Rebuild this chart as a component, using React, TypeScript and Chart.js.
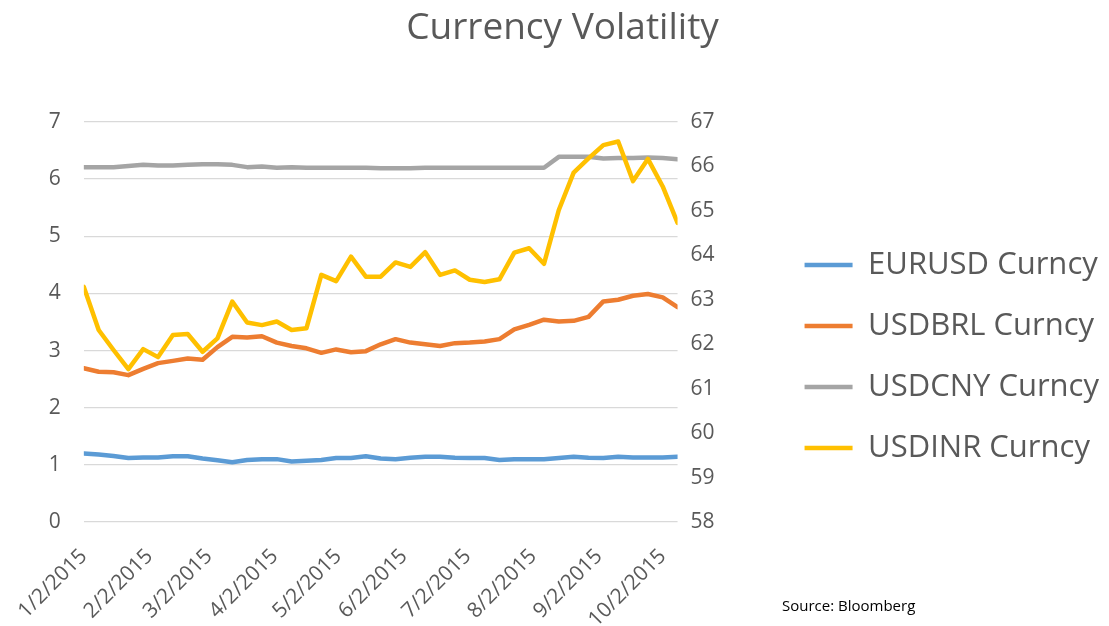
import React, { useEffect, useRef } from 'react';
import { Chart, registerables } from 'chart.js';

Chart.register(...registerables);

// Weekly observation dates (categories)
const weekDates = [
  '1/2/2015', '1/9/2015', '1/16/2015', '1/23/2015', '1/30/2015',
  '2/6/2015', '2/13/2015', '2/20/2015', '2/27/2015',
  '3/6/2015', '3/13/2015', '3/20/2015', '3/27/2015',
  '4/3/2015', '4/10/2015', '4/17/2015', '4/24/2015',
  '5/1/2015', '5/8/2015', '5/15/2015', '5/22/2015', '5/29/2015',
  '6/5/2015', '6/12/2015', '6/19/2015', '6/26/2015',
  '7/3/2015', '7/10/2015', '7/17/2015', '7/24/2015', '7/31/2015',
  '8/7/2015', '8/14/2015', '8/21/2015', '8/28/2015',
  '9/4/2015', '9/11/2015', '9/18/2015', '9/25/2015',
  '10/2/2015', '10/9/2015',
];

// Left axis series
const eurusd = [
  1.20, 1.18, 1.155, 1.12, 1.13, 1.13, 1.15, 1.15, 1.11, 1.08,
  1.045, 1.085, 1.10, 1.10, 1.06, 1.07, 1.085, 1.12, 1.12, 1.15,
  1.11, 1.10, 1.125, 1.14, 1.14, 1.125, 1.12, 1.12, 1.085, 1.10,
  1.10, 1.10, 1.12, 1.14, 1.125, 1.12, 1.14, 1.13, 1.13, 1.13, 1.14,
];
const usdbrl = [
  2.69, 2.63, 2.62, 2.57, 2.68, 2.78, 2.82, 2.86, 2.84, 3.06,
  3.24, 3.23, 3.25, 3.14, 3.08, 3.04, 2.96, 3.02, 2.97, 2.99,
  3.11, 3.20, 3.14, 3.11, 3.08, 3.13, 3.14, 3.16, 3.20, 3.37,
  3.45, 3.54, 3.51, 3.52, 3.59, 3.86, 3.89, 3.96, 3.99, 3.93, 3.76,
];
const usdcny = [
  6.21, 6.21, 6.21, 6.23, 6.25, 6.24, 6.24, 6.25, 6.26, 6.26,
  6.25, 6.21, 6.22, 6.20, 6.21, 6.20, 6.20, 6.20, 6.20, 6.20,
  6.19, 6.19, 6.19, 6.20, 6.20, 6.20, 6.20, 6.20, 6.20, 6.20,
  6.20, 6.20, 6.39, 6.39, 6.39, 6.36, 6.37, 6.37, 6.38, 6.37, 6.35,
];
// Right axis series
const usdinr = [
  63.29, 62.32, 61.87, 61.44, 61.89, 61.71, 62.21, 62.23, 61.83, 62.13,
  62.96, 62.49, 62.43, 62.51, 62.32, 62.36, 63.56, 63.42, 63.97, 63.52,
  63.52, 63.84, 63.74, 64.07, 63.56, 63.66, 63.45, 63.40, 63.46, 64.06,
  64.16, 63.81, 65.02, 65.86, 66.18, 66.48, 66.56, 65.67, 66.17, 65.55, 64.73,
];

const monthTickLabels = [
  '1/2/2015', '2/2/2015', '3/2/2015', '4/2/2015', '5/2/2015',
  '6/2/2015', '7/2/2015', '8/2/2015', '9/2/2015', '10/2/2015',
];

const seriesNames = ['EURUSD Curncy', 'USDBRL Curncy', 'USDCNY Curncy', 'USDINR Curncy'];
const seriesColors = ['#5B9BD5', '#ED7D31', '#A5A5A5', '#FFC000'];

const FONT = '"Open Sans", "DejaVu Sans", sans-serif';
const TEXT = '#595959';

const dayIndex = (s: string) => {
  const [m, d, y] = s.split('/').map(Number);
  return Math.round((Date.UTC(y, m - 1, d) - Date.UTC(2015, 0, 2)) / 86400000);
};

export default function App() {
  const ref = useRef<HTMLCanvasElement | null>(null);

  useEffect(() => {
    if (!ref.current) return;
    const toPts = (vals: number[]) => vals.map((v, i) => ({ x: dayIndex(weekDates[i]), y: v }));
    const all = [eurusd, usdbrl, usdcny, usdinr];
    const axes = ['y', 'y', 'y', 'y2'];
    const orders = [3, 2, 1, 0];

    const chart = new Chart(ref.current, {
      type: 'line',
      data: {
        datasets: all.map((vals, k) => ({
          label: seriesNames[k],
          data: toPts(vals),
          borderColor: seriesColors[k],
          backgroundColor: seriesColors[k],
          borderWidth: 4.5,
          borderCapStyle: 'round',
          borderJoinStyle: 'round',
          pointRadius: 0,
          tension: 0,
          yAxisID: axes[k],
          order: orders[k],
        })),
      },
      options: {
        responsive: false,
        animation: false,
        layout: { padding: { left: 16 } },
        plugins: {
          tooltip: { enabled: false },
          title: {
            display: true,
            text: 'Currency Volatility',
            color: TEXT,
            font: { family: FONT, size: 37, weight: 'normal' },
            padding: { top: 6, bottom: 71.6 },
          },
          legend: {
            position: 'right',
            maxWidth: 420,
            title: { display: true, text: '', font: { size: 10 }, padding: { top: 75, bottom: 0 } },
            labels: {
              usePointStyle: true,
              pointStyle: 'line',
              pointStyleWidth: 48,
              padding: 30,
              color: TEXT,
              font: { family: FONT, size: 31 },
              sort: (a: any, b: any) => a.datasetIndex - b.datasetIndex,
            },
          },
        },
        scales: {
          x: {
            type: 'linear',
            min: dayIndex(weekDates[0]),
            max: dayIndex(weekDates[weekDates.length - 1]),
            afterBuildTicks: (scale: any) => {
              scale.ticks = monthTickLabels.map((t) => ({ value: dayIndex(t) }));
            },
            afterFit: (scale: any) => { scale.height = 104; },
            grid: { display: false, drawTicks: false },
            border: { display: false },
            ticks: {
              autoSkip: false,
              minRotation: 45,
              maxRotation: 45,
              padding: 22,
              color: TEXT,
              font: { family: FONT, size: 21 },
              callback: (v: any) => {
                const f = monthTickLabels.find((t) => dayIndex(t) === v);
                return f ?? '';
              },
            },
          },
          y: {
            position: 'left',
            min: 0,
            max: 7,
            afterFit: (scale: any) => { scale.width = 65; },
            grid: { color: '#D9D9D9', lineWidth: 1.3, drawTicks: false },
            border: { display: false },
            ticks: { stepSize: 1, padding: 23, color: TEXT, font: { family: FONT, size: 21 } },
          },
          y2: {
            position: 'right',
            min: 58,
            max: 67,
            afterFit: (scale: any) => { scale.width = 97; },
            grid: { display: false, drawTicks: false },
            border: { display: false },
            ticks: { stepSize: 1, padding: 13, color: TEXT, font: { family: FONT, size: 21 } },
          },
        },
      },
    } as any);

    return () => chart.destroy();
  }, []);

  return (
    <div style={{ position: 'fixed', left: 0, top: 0, width: 1109, height: 626, background: '#fff' }}>
      <canvas ref={ref} width={1109} height={626} style={{ width: 1109, height: 626, display: 'block' }} />
      <div
        style={{
          position: 'absolute',
          left: 782,
          top: 595,
          fontFamily: FONT,
          fontSize: 15,
          color: '#000',
          whiteSpace: 'nowrap',
        }}
      >
        Source: Bloomberg
      </div>
    </div>
  );
}
